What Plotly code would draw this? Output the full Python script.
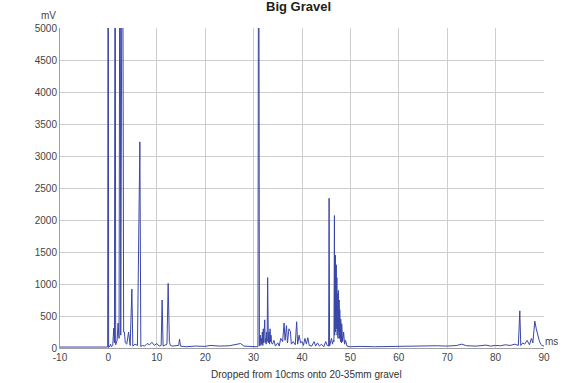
import plotly.graph_objects as go

# Drop-test trace: sensor output (mV) against time (ms)
t_ms = [
    -10, -6, -2, -0.15, -0.05, 0.05, 0.3, 0.45, 0.6,
    0.9, 1.1, 1.25, 1.4, 1.5, 1.8, 2.0, 2.2, 2.4, 2.55, 2.9, 3.15,
    3.3, 3.5, 3.8, 4.17, 4.5, 4.85, 5.05, 5.5, 6.0, 6.5, 6.7,
    7.0, 7.5, 8.0, 8.5, 9.0, 9.5, 10.0, 10.5, 10.9, 11.1, 11.3,
    12.1, 12.35, 12.6, 12.8, 13.2, 14.5, 14.7, 14.9,
    16, 18, 20, 21, 23, 25, 26.5, 27.3, 28.0, 28.6, 29.5, 30.5,
    30.9, 31.05, 31.2, 31.4, 31.5, 31.6, 31.7, 31.8, 31.9, 32.0, 32.1, 32.2,
    32.3, 32.4, 32.5, 32.6, 32.7, 32.8, 32.9, 33.05,
    33.2, 33.3, 33.4, 33.5, 33.6, 33.7, 33.9, 34.2, 34.5, 35.0, 35.3, 35.6,
    36.0, 36.3, 36.5, 36.8, 37.0, 37.3, 37.6, 37.8, 38.2, 38.6, 38.9, 39.1,
    39.4, 39.7, 40.0, 40.3, 40.6, 40.9, 41.2, 41.5, 42.0, 42.5, 42.8, 43.2,
    43.6, 44.0, 44.5, 44.9, 45.2, 45.5, 45.6, 45.7, 45.9, 46.1, 46.3, 46.5,
    46.6, 46.7, 46.75, 46.8, 46.85, 46.9, 46.95, 47.0, 47.05, 47.1, 47.15,
    47.2, 47.25, 47.3, 47.35, 47.4, 47.45, 47.5, 47.55, 47.6, 47.65, 47.7,
    47.75, 47.8, 47.85, 47.9, 47.95, 48.0, 48.05, 48.1, 48.15, 48.2, 48.3,
    48.4, 48.6, 48.8, 49.0, 49.3,
    50, 52, 55, 58, 60, 63, 66, 68, 70, 72, 73, 74, 76, 78, 79, 80, 81,
    82, 83, 84, 84.7, 85.0, 85.2, 85.6, 86.0, 86.5, 87.0, 87.4, 87.7,
    88.1, 88.4, 88.7, 89.0, 89.3, 89.6, 90,
]
mv = [
    15, 15, 15, 15, 9000, 10, 30, 60, 20,
    40, 310, 80, 9000, 50, 120, 390, 150, 9000, 200, 9000, 250,
    250, 80, 60, 250, 40, 920, 30, 60, 40, 3220, 20,
    40, 30, 70, 50, 90, 40, 70, 30, 40, 750, 30,
    60, 1010, 100, 40, 30, 40, 140, 30,
    20, 30, 25, 40, 30, 35, 60, 70, 30, 25, 20, 20,
    20, 9000, 30, 200, 40, 150, 60, 250, 40, 300, 80, 200,
    440, 90, 150, 60, 250, 100, 1100, 80,
    250, 60, 300, 100, 200, 80, 60, 120, 30, 80, 30, 150,
    100, 390, 120, 350, 80, 300, 260, 60, 100, 50, 410, 60,
    200, 80, 100, 40, 150, 60, 160, 40, 30, 100, 30, 80,
    30, 60, 20, 100, 40, 30, 2340, 30, 100, 150, 60, 120,
    100, 2070, 200, 900, 300, 1450, 250, 1250, 350, 1300, 300,
    1100, 200, 1050, 300, 850, 150, 900, 250, 700, 200, 750,
    150, 600, 250, 550, 100, 450, 200, 400, 80, 380, 250,
    100, 250, 60, 120, 30,
    20, 25, 20, 25, 30, 25, 30, 35, 30, 40, 60, 35, 30, 45, 30, 40, 35,
    50, 40, 60, 40, 580, 40, 80, 60, 120, 50, 150, 80,
    420, 300, 200, 120, 60, 40, 30,
]

x_ticks = list(range(-10, 91, 10))
y_ticks = list(range(0, 5001, 500))

FONT = "Liberation Sans, Arial, sans-serif"

fig = go.Figure()
fig.add_trace(go.Scatter(
    x=t_ms, y=mv, mode="lines",
    line=dict(color="#3a46a8", width=1),
    hoverinfo="skip", showlegend=False,
))

axis_common = dict(
    showgrid=True, gridcolor="#cdcdcd", gridwidth=1,
    showline=True, linecolor="#a0a0a0", linewidth=1,
    zeroline=False, ticks="", mirror=False,
    tickfont=dict(family=FONT, size=10, color="#444"),
)

fig.update_xaxes(range=[-10, 90], tickvals=x_ticks,
                 ticktext=[str(v) for v in x_ticks], **axis_common)
fig.update_yaxes(range=[0, 5000], tickvals=y_ticks,
                 ticktext=[str(v) for v in y_ticks], **axis_common)

annotations = [
    dict(text="<b>Big Gravel</b>", x=0.493, y=1.066, xref="paper", yref="paper",
         xanchor="center", yanchor="middle", showarrow=False,
         font=dict(family=FONT, size=13, color="#222")),
    dict(text="mV", x=-0.0245, y=1.0375, xref="paper", yref="paper",
         xanchor="center", yanchor="middle", showarrow=False,
         font=dict(family=FONT, size=10, color="#444")),
    dict(text="ms", x=1.0, y=0.02, xref="paper", yref="paper",
         xanchor="left", yanchor="middle", showarrow=False, xshift=-1,
         font=dict(family=FONT, size=10, color="#444")),
    dict(text="Dropped from 10cms onto 20-35mm gravel", x=0.509, y=-0.084,
         xref="paper", yref="paper", xanchor="center", yanchor="middle",
         showarrow=False, font=dict(family=FONT, size=10, color="#333")),
]

fig.update_layout(
    width=562, height=383,
    margin=dict(l=60, r=13, t=28, b=35),
    paper_bgcolor="white", plot_bgcolor="white",
    annotations=annotations,
)

fig.write_html("out.html")
